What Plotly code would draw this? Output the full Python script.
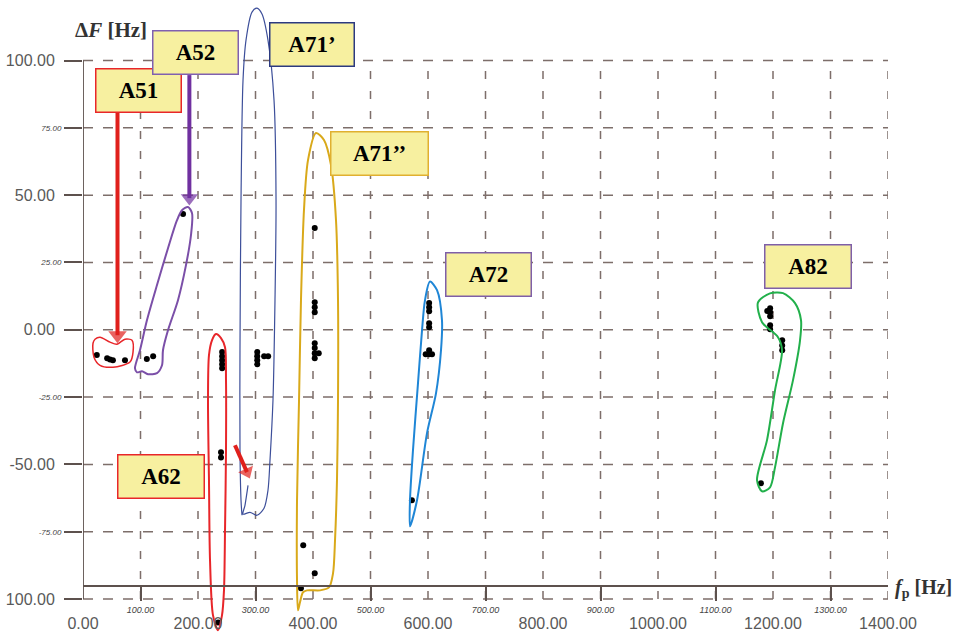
import plotly.graph_objects as go

# ---------------- data ----------------
# measured points (fp [Hz], dF [Hz])
a51_x = [24, 42, 47, 52, 73]
a51_y = [-9.4, -10.6, -11.0, -11.3, -11.3]
a52_x = [111, 122, 174]
a52_y = [-10.9, -9.8, 43.0]
a62_x = [242, 242, 242, 242, 242, 240, 240, 235]
a62_y = [-8.3, -9.8, -11.3, -12.8, -14.3, -45.5, -47.4, -108.7]
a71a_x = [303, 303, 303, 303, 315, 322]
a71a_y = [-8.3, -9.8, -11.3, -12.8, -9.8, -9.8]
a71b_x = [403, 403, 403, 403, 403, 403, 403, 403, 410, 383, 403, 379]
a71b_y = [37.8, 10.2, 8.4, 6.5, -5.0, -6.8, -8.7, -10.6, -8.7, -80.0, -90.4, -96.0]
a72_x = [602, 602, 602, 602, 602, 602, 602, 596, 607, 572]
a72_y = [9.9, 8.4, 6.9, 2.4, 0.9, -7.6, -9.1, -9.1, -9.1, -63.3]
a82_x = [1195, 1190, 1195, 1195, 1195, 1195, 1216, 1216, 1216, 1179]
a82_y = [8.0, 7.0, 6.5, 5.0, 1.7, 0.2, -3.9, -5.8, -7.6, -57.0]

# hand-drawn enclosures around each group
loop_a51_x = [20.9, 29.6, 47.0, 59.1, 73.0, 85.2, 87.0, 81.7, 52.2, 29.6, 19.1, 17.4, 20.9]
loop_a51_y = [-3.5, -2.75, -4.6, -5.35, -3.5, -3.9, -8.3, -12.0, -13.9, -13.2, -10.2, -5.0, -3.5]
loop_a52_x = [90.4, 99.1, 111.3, 128.7, 147.8, 163.5, 172.2, 182.6, 189.6, 187.8, 179.1, 165.2,
              147.8, 139.1, 137.4, 128.7, 113.0, 102.6, 93.9, 90.4]
loop_a52_y = [-14.3, -7.6, 3.6, 16.6, 30.3, 40.7, 44.4, 45.6, 43.3, 35.2, 24.0, 11.0,
              -0.2, -7.6, -13.2, -16.1, -16.5, -15.4, -15.8, -14.3]
loop_a62_x = [234.8, 226.1, 220.9, 219.1, 217.4, 219.1, 224.3, 231.3, 240.0, 247.0, 248.7,
              248.7, 247.0, 245.2, 241.7, 234.8]
loop_a62_y = [-111.6, -106.1, -85.6, -55.9, -26.2, -9.4, -3.9, -1.6, -3.1, -6.5, -18.7,
              -44.7, -74.5, -96.8, -106.1, -111.6]
loop_a71a_x = [287.0, 281.7, 278.3, 290.4, 302.6, 314.8, 321.7, 325.2, 330.4, 333.9, 335.7,
               332.2, 321.7, 311.3, 302.6, 293.9, 283.5, 278.3, 274.8, 273.0, 273.0, 274.8, 276.5]
loop_a71a_y = [-57.8, -65.2, -68.5, -67.8, -68.9, -66.3, -59.6, -48.5, -26.2, 11.0, 48.2,
               85.3, 107.6, 117.3, 119.5, 118.0, 107.6, 92.7, 48.2, -7.6, -44.7, -63.3, -68.9]
loop_a71b_x = [373.9, 372.2, 372.2, 375.7, 379.1, 384.3, 391.3, 405.2, 419.1, 431.3, 440.0,
               443.5, 443.5, 441.7, 438.3, 434.8, 427.8, 412.2, 389.6, 382.6, 377.4, 373.9]
loop_a71b_y = [-104.2, -93.1, -63.3, -26.2, 11.0, 44.4, 63.0, 73.1, 70.5, 61.2, 40.7,
               11.0, -26.2, -55.9, -78.2, -90.5, -95.7, -96.8, -96.8, -97.5, -101.2, -104.2]
loop_a72_x = [603.5, 615.7, 624.3, 622.6, 613.9, 598.3, 580.9, 568.7, 568.7, 573.9, 582.6,
              589.6, 594.8, 603.5]
loop_a72_y = [17.9, 14.7, 3.6, -7.6, -23.6, -38.4, -63.3, -73.0, -63.3, -44.7, -19.8,
              -0.2, 11.0, 17.9]
loop_a82_x = [1194.8, 1173.9, 1180.9, 1208.7, 1215.7, 1203.5, 1189.6, 1172.2, 1180.9, 1194.8,
              1203.5, 1217.4, 1234.8, 1247.0, 1248.7, 1238.3, 1217.4, 1194.8]
loop_a82_y = [13.5, 10.2, 2.8, -2.75, -7.6, -22.5, -41.0, -55.9, -60.0, -58.5,
              -51.1, -34.7, -18.7, -3.9, 3.6, 9.9, 13.6, 13.5]

# group labels
label_text = ["A51", "A52", "A71’", "A71’’", "A72", "A82", "A62"]
label_x = [95.7, 196.5, 397.4, 516.5, 705.2, 1260.0, 135.7]
label_y = [89.0, 103.0, 105.9, 65.4, 20.7, 23.4, -54.4]

# pointer arrows (tail -> head centre)
arrow_a51_x = [60, 60]
arrow_a51_y = [80.9, -2.0]
arrow_a52_x = [185, 185]
arrow_a52_y = [94.6, 48.9]
arrow_a71_x = [264.3, 285.2]
arrow_a71_y = [-42.9, -52.9]

# axis ticks
x_major = [0, 200, 400, 600, 800, 1000, 1200, 1400]
x_major_text = ["0.00", "200.00", "400.00", "600.00", "800.00", "1000.00", "1200.00", "1400.00"]
x_minor = [100, 300, 500, 700, 900, 1100, 1300]
x_minor_text = ["100.00", "300.00", "500.00", "700.00", "900.00", "1100.00", "1300.00"]
y_major = [-100, -50, 0, 50, 100]
y_major_text = ["100.00", "-50.00", "0.00", "50.00", "100.00"]
y_minor = [-75, -25, 25, 75]
y_minor_text = ["-75.00", "-25.00", "25.00", "75.00"]

# ---------------- figure ----------------
GRID = "#7d6e6a"
AXC = "#5d514d"
YRANGE = [-113, 121]
XRANGE = [0, 1400]

fig = go.Figure()

loops = [
    (loop_a51_x, loop_a51_y, "#e8262a", 1.5),
    (loop_a52_x, loop_a52_y, "#7b4fa8", 2),
    (loop_a62_x, loop_a62_y, "#e8262a", 2),
    (loop_a71a_x, loop_a71a_y, "#3d4f9a", 1.2),
    (loop_a71b_x, loop_a71b_y, "#d9a91a", 2),
    (loop_a72_x, loop_a72_y, "#1f86d6", 2),
    (loop_a82_x, loop_a82_y, "#22b04b", 2),
]
for lx, ly, c, w in loops:
    fig.add_trace(go.Scatter(x=lx, y=ly, mode="lines", xaxis="x2", yaxis="y2",
                             line=dict(color=c, width=w, shape="spline", smoothing=0.8),
                             showlegend=False, hoverinfo="skip"))

# arrows: thick line + triangle head oriented along the segment
for axs, ays, c, s in [(arrow_a51_x, arrow_a51_y, "#e0201c", 16),
                       (arrow_a52_x, arrow_a52_y, "#7030a0", 15),
                       (arrow_a71_x, arrow_a71_y, "#e0201c", 14)]:
    fig.add_trace(go.Scatter(x=axs, y=ays, mode="lines+markers", xaxis="x2", yaxis="y2",
                             line=dict(color=c, width=4),
                             marker=dict(symbol="triangle-up", size=[0, s], color=c,
                                         angleref="previous", line=dict(width=0)),
                             showlegend=False, hoverinfo="skip"))

groups = [(a51_x, a51_y), (a52_x, a52_y), (a62_x, a62_y), (a71a_x, a71a_y),
          (a71b_x, a71b_y), (a72_x, a72_y), (a82_x, a82_y)]
for gx, gy in groups:
    fig.add_trace(go.Scatter(x=gx, y=gy, mode="markers", cliponaxis=False,
                             marker=dict(color="black", size=6),
                             showlegend=False))

# dashed grid
shapes = []
for yv in y_major + y_minor:
    shapes.append(dict(type="line", xref="x", yref="y", x0=0, x1=1400, y0=yv, y1=yv,
                       line=dict(color=GRID, width=1.5, dash="10px,10px"), layer="below"))
for xv in x_major[1:] + x_minor:
    shapes.append(dict(type="line", xref="x", yref="y", x0=xv, x1=xv, y0=-100, y1=100,
                       line=dict(color=GRID, width=1.5, dash="8px,12px"), layer="below"))
# solid vertical axis line
shapes.append(dict(type="line", xref="x", yref="y", x0=0, x1=0, y0=-100, y1=100,
                   line=dict(color=AXC, width=1.8), layer="below"))

annotations = []
borders = ["#e8262a", "#8060b0", "#2c3a80", "#e0b030", "#7f5fa8", "#7f5fa8", "#e8262a"]
widths = [84, 84, 83, 96, 84, 85, 85]
for t, x, y, bc, w in zip(label_text, label_x, label_y, borders, widths):
    annotations.append(dict(x=x, y=y, xref="x", yref="y", text="<b>" + t + "</b>",
                            showarrow=False, font=dict(family="Liberation Serif", size=23, color="black"),
                            bgcolor="#f7f0a0", bordercolor=bc, borderwidth=1.5, borderpad=0,
                            width=w, height=42, align="center", valign="middle"))

# axis titles
annotations.append(dict(x=48.7, y=111.3, xref="x", yref="y", showarrow=False,
                        text="<b>Δ<i>F</i> [Hz]</b>",
                        font=dict(family="Liberation Serif", size=21, color="#333333")))
annotations.append(dict(x=1.0062, y=-96, xref="paper", yref="y", showarrow=False, xanchor="left",
                        text="<b><i>f</i><sub>p</sub> [Hz]</b>",
                        font=dict(family="Liberation Serif", size=20, color="#333333")))

POS = 48 / 630

fig.update_layout(
    width=961, height=634,
    margin=dict(l=83, r=73, t=4, b=0),
    paper_bgcolor="white", plot_bgcolor="white",
    shapes=shapes, annotations=annotations,
    xaxis=dict(range=XRANGE, domain=[0, 1], anchor="free", position=POS,
               showline=True, linecolor=AXC, linewidth=2, showgrid=False, zeroline=False,
               ticks="outside", ticklen=14, tickwidth=1.5, tickcolor=AXC,
               tickvals=x_minor, ticktext=["<i>" + t + "</i>" for t in x_minor_text],
               tickfont=dict(family="Liberation Sans", size=9, color="#444444"),
               ticklabelstandoff=1),
    xaxis2=dict(range=XRANGE, overlaying="x", anchor="free", position=POS,
                showline=False, showgrid=False, zeroline=False, ticks="",
                tickvals=x_major, ticktext=x_major_text,
                tickfont=dict(family="Liberation Sans", size=16, color="#595959"),
                ticklabelstandoff=26),
    yaxis=dict(range=YRANGE, domain=[0, 1], anchor="x", showline=False, showgrid=False,
               zeroline=False, ticks="outside", ticklen=18, tickwidth=1.5, tickcolor=AXC,
               tickvals=y_major, ticktext=y_major_text,
               tickfont=dict(family="Liberation Sans", size=16, color="#595959"),
               ticklabelstandoff=6),
    yaxis2=dict(range=YRANGE, overlaying="y", anchor="x", side="left", showline=False,
                showgrid=False, zeroline=False, ticks="outside", ticklen=18, tickwidth=1.5,
                tickcolor=AXC, tickvals=y_minor,
                ticktext=["<i>" + t + "</i>" for t in y_minor_text],
                tickfont=dict(family="Liberation Sans", size=8, color="#444444"),
                ticklabelstandoff=1),
)

fig.write_html("out.html", config={"displayModeBar": False},
               post_script="document.body.style.margin='0';document.body.style.overflow='hidden';")
